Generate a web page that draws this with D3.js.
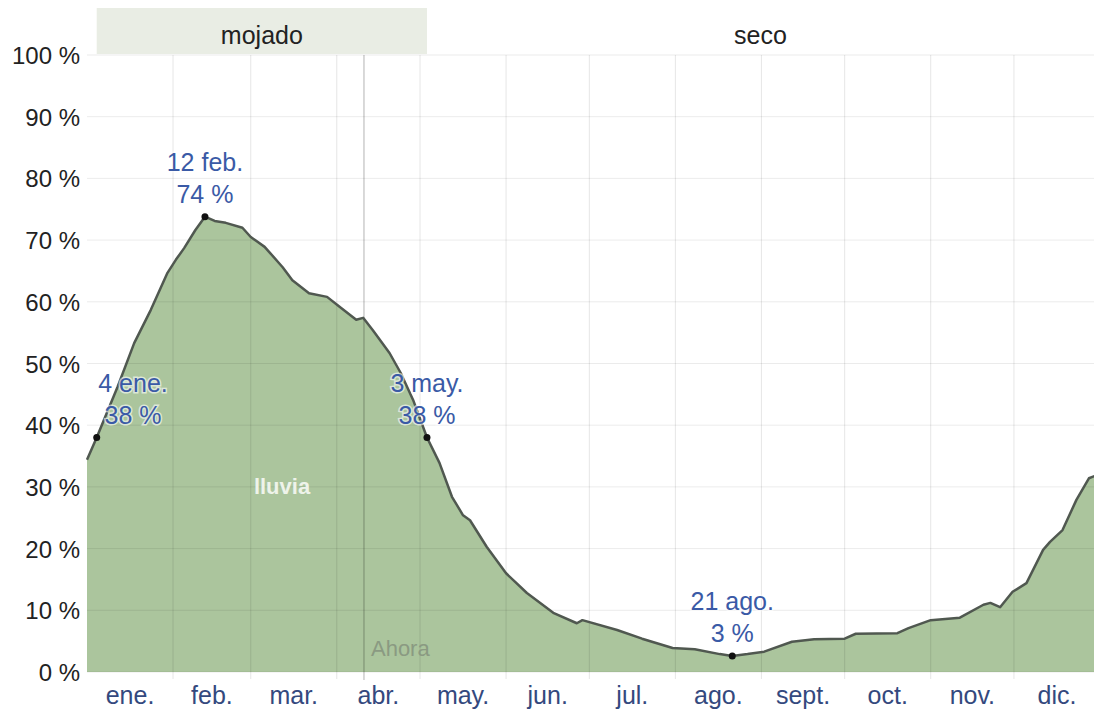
<!DOCTYPE html>
<html>
<head>
<meta charset="utf-8">
<script src="https://cdn.jsdelivr.net/npm/d3@7"></script>
<style>
	body { margin: 0; background: #fff; }
	text { font-family: 'Liberation Sans', Arial, sans-serif; }
</style>
</head>
<body>
<div id="visualization"></div>
<script>
const width = 1094,
	height = 713;

// dia del año (0 = 1 ene.) y probabilidad de lluvia (%)
const dias = [ 0, 3.5, 6.5, 11, 17, 23, 29, 32, 35, 39, 42.5, 46, 50, 56, 59, 64, 66, 70.5, 74, 80, 86.5, 91, 97, 99.5, 103, 109, 113, 117.5, 122.5, 127, 131.5, 135.5, 138, 144, 151, 158.5, 168, 176.5, 178.5, 191, 200, 211, 219, 228, 232.5, 238, 244, 254, 262, 273, 277, 292, 296, 304, 314.5, 323, 325.5, 329, 333.5, 338.5, 344.5, 347, 351.5, 356.5, 361, 365 ];
const probLluvia = [ 34.4, 38, 41.3, 46.2, 53.3, 58.7, 64.7, 66.8, 68.7, 71.6, 73.8, 73.1, 72.8, 72.0, 70.5, 68.9, 67.9, 65.6, 63.5, 61.4, 60.8, 59.2, 57.1, 57.4, 55.4, 51.7, 48.5, 44.1, 38, 33.9, 28.4, 25.4, 24.6, 20.3, 16.0, 12.8, 9.6, 7.9, 8.4, 6.8, 5.4, 3.9, 3.7, 2.9, 2.6, 2.9, 3.3, 4.9, 5.3, 5.4, 6.2, 6.3, 7.1, 8.4, 8.8, 10.9, 11.2, 10.5, 13.0, 14.4, 19.8, 21.1, 23.0, 27.9, 31.4, 32.1 ];

const meses = [ 'ene.', 'feb.', 'mar.', 'abr.', 'may.', 'jun.', 'jul.', 'ago.', 'sept.', 'oct.', 'nov.', 'dic.' ];
const inicioMes = [ 0, 31, 59, 90, 120, 151, 181, 212, 243, 273, 304, 334, 365 ];
const yTicks = [ 0, 10, 20, 30, 40, 50, 60, 70, 80, 90, 100 ];

const estaciones = [ 'mojado', 'seco' ];
const estacionInicio = [ 3.5, 122.5 ];
const estacionFin = [ 122.5, 365 ];

const etiquetaDia = [ 3.5, 42.5, 122.5, 232.5 ];
const etiquetaValor = [ 38, 73.8, 38, 2.6 ];
const etiquetaFecha = [ '4 ene.', '12 feb.', '3 may.', '21 ago.' ];
const etiquetaTexto = [ '38 %', '74 %', '38 %', '3 %' ];

const diaAhora = 99.8;

// scales
const xScale = d3.scaleLinear().domain([ 0, 365 ]).range([ 87, 1100 ]);
const yScale = d3.scaleLinear().domain([ 0, 100 ]).range([ 672, 55 ]);

const svg = d3
	.select('#visualization')
	.append('svg')
	.attr('width', width)
	.attr('height', height)
	.style('display', 'block');

// season band
estaciones.forEach((nombre, i) => {
	const x0 = xScale(estacionInicio[i]),
		x1 = Math.min(xScale(estacionFin[i]), width);
	if (nombre == 'mojado') {
		svg.append('rect').attr('x', x0).attr('y', 8).attr('width', x1 - x0).attr('height', 46).attr('fill', '#e9ede4');
	}
	svg
		.append('text')
		.attr('x', (x0 + x1) / 2)
		.attr('y', 44)
		.attr('text-anchor', 'middle')
		.style('font-size', '25px')
		.attr('fill', '#222')
		.text(nombre);
});

// area + line
const area = d3
	.area()
	.x((d, i) => xScale(dias[i]))
	.y0(yScale(0))
	.y1((d) => yScale(d));
const line = d3.line().x((d, i) => xScale(dias[i])).y((d) => yScale(d));

svg.append('path').datum(probLluvia).attr('d', area).attr('fill', '#abc59d');

// grid over the fill
svg
	.selectAll('.hgrid')
	.data(yTicks)
	.enter()
	.append('line')
	.attr('class', 'hgrid')
	.attr('x1', xScale(0))
	.attr('x2', width)
	.attr('y1', (d) => yScale(d))
	.attr('y2', (d) => yScale(d))
	.attr('stroke', '#000')
	.attr('stroke-opacity', 0.08);

svg
	.selectAll('.vgrid')
	.data(inicioMes.slice(1, 12))
	.enter()
	.append('line')
	.attr('class', 'vgrid')
	.attr('x1', (d) => xScale(d))
	.attr('x2', (d) => xScale(d))
	.attr('y1', yScale(100))
	.attr('y2', yScale(0) + 7)
	.attr('stroke', '#000')
	.attr('stroke-opacity', 0.1);

// now marker
svg
	.append('line')
	.attr('x1', xScale(diaAhora))
	.attr('x2', xScale(diaAhora))
	.attr('y1', yScale(100))
	.attr('y2', yScale(0) + 8)
	.attr('stroke', '#000')
	.attr('stroke-opacity', 0.3);
svg
	.append('text')
	.attr('x', xScale(diaAhora) + 7)
	.attr('y', yScale(0) - 16)
	.style('font-size', '22px')
	.attr('fill', '#8a9a82')
	.text('Ahora');

svg
	.append('path')
	.datum(probLluvia)
	.attr('d', line)
	.attr('fill', 'none')
	.attr('stroke', '#505850')
	.attr('stroke-width', 2.5)
	.attr('stroke-linejoin', 'round');

svg
	.append('text')
	.attr('x', 282)
	.attr('y', yScale(28.8))
	.attr('text-anchor', 'middle')
	.style('font-size', '22px')
	.style('font-weight', 'bold')
	.attr('fill', '#eef3ea')
	.text('lluvia');

// y axis labels
svg
	.selectAll('.ylab')
	.data(yTicks)
	.enter()
	.append('text')
	.attr('class', 'ylab')
	.attr('x', 80)
	.attr('y', (d) => yScale(d) + 9)
	.attr('text-anchor', 'end')
	.style('font-size', '24px')
	.attr('fill', '#222')
	.text((d) => d + ' %');

// month labels
svg
	.selectAll('.mlab')
	.data(meses)
	.enter()
	.append('text')
	.attr('class', 'mlab')
	.attr('x', (d, i) => xScale((inicioMes[i] + inicioMes[i + 1]) / 2))
	.attr('y', 704)
	.attr('text-anchor', 'middle')
	.style('font-size', '25px')
	.attr('fill', '#34497e')
	.text((d) => d);

// annotated points
etiquetaDia.forEach((dia, i) => {
	const px = xScale(dia),
		py = yScale(etiquetaValor[i]);
	const tx = Math.max(px, 133);
	[ etiquetaFecha[i], etiquetaTexto[i] ].forEach((t, j) => {
		svg
			.append('text')
			.attr('x', tx)
			.attr('y', py - (j == 0 ? 46 : 14))
			.attr('text-anchor', 'middle')
			.style('font-size', '25px')
			.style('paint-order', 'stroke')
			.attr('stroke', '#fff')
			.attr('stroke-opacity', 0.6)
			.attr('stroke-width', 3)
			.attr('fill', '#3a5aa6')
			.text(t);
	});
	svg.append('circle').attr('cx', px).attr('cy', py).attr('r', 3.5).attr('fill', '#111');
});
</script>
</body>
</html>
